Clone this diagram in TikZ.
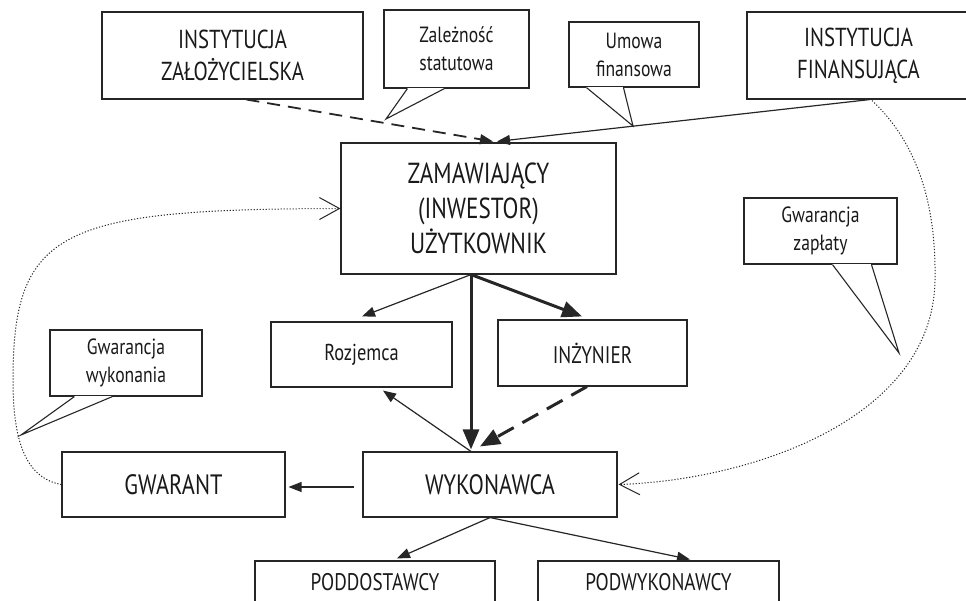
\documentclass[tikz,border=0pt]{standalone}
\usepackage{fontspec}
\setmainfont{PT Sans}[FakeStretch=0.8]
\usetikzlibrary{arrows.meta}
\usetikzlibrary{calc}
\colorlet{lncolor}{black!85}
\colorlet{txcolor}{black!90}
\tikzstyle{blk}=[draw=lncolor,line width=1.1pt,align=center,inner sep=0pt,text=txcolor]
\tikzstyle{big}=[blk,font=\fontsize{28}{34}\selectfont]
\tikzstyle{mid}=[blk,font=\fontsize{24}{30}\selectfont]
\tikzstyle{note}=[blk,font=\fontsize{22}{28}\selectfont]
\tikzstyle{ar}=[line width=1.2pt,draw=lncolor,->,>={Triangle[length=13pt,width=10pt]}]
\tikzstyle{arthick}=[line width=3pt,draw=lncolor,->,>={Triangle[length=20pt,width=16pt]}]
\tikzstyle{ardash}=[ar,line width=1.8pt,dash pattern=on 13pt off 8pt]
\tikzstyle{arthickdash}=[arthick,dash pattern=on 18pt off 10pt]
\tikzstyle{guar}=[line width=1pt,draw=lncolor,dash pattern=on 1.2pt off 1.8pt,->,>={Straight Barb[length=20pt,width=22pt]}]
% tail of a speech bubble: node, left and right offset from its south west, tip
\newcommand\calltail[4]{%
  \draw[white,line width=2pt] ($(#1.south west)+(#2,0)$) -- ($(#1.south west)+(#3,0)$);
  \draw[lncolor,line width=1.1pt] ($(#1.south west)+(#2,0)$) -- (#4) -- ($(#1.south west)+(#3,0)$);
}

\begin{document}
\begin{tikzpicture}[x=1pt,y=-1pt]
	\useasboundingbox (0,0) rectangle (966,601);
	% institutions
	\node[big,minimum width=261pt,minimum height=87pt,font=\fontsize{26}{32}\selectfont] (zal) at (232.5,55.5) {INSTYTUCJA\\ZAŁOŻYCIELSKA};
	\node[big,minimum width=223pt,minimum height=87pt,font=\fontsize{26}{32}\selectfont] (fin) at (858.5,55.5) {INSTYTUCJA\\FINANSUJĄCA};
	\node[big,minimum width=275pt,minimum height=131pt,font=\fontsize{29}{35}\selectfont] (zam) at (478.5,208.5) {ZAMAWIAJĄCY\\(INWESTOR)\\UŻYTKOWNIK};
	% contract parties
	\node[note,minimum width=181pt,minimum height=65pt,font=\fontsize{23}{28}\selectfont] (roz) at (361.5,354.5) {Rozjemca};
	\node[mid,minimum width=189pt,minimum height=66pt] (inz) at (592.5,353) {INŻYNIER};
	\node[big,minimum width=254pt,minimum height=65pt] (wyk) at (490,484.5) {WYKONAWCA};
	\node[big,minimum width=223pt,minimum height=65pt] (gwarant) at (173.5,484.5) {GWARANT};
	\node[mid,minimum width=240pt,minimum height=43pt] (podd) at (375,582.5) {PODDOSTAWCY};
	\node[mid,minimum width=241pt,minimum height=43pt] (podw) at (658.5,582.5) {PODWYKONAWCY};
	% bubbles
	\node[note,minimum width=145pt,minimum height=78pt] (statut) at (456.5,49) {Zależność\\statutowa};
	\node[note,minimum width=130pt,minimum height=65pt] (umowa) at (634,54.5) {Umowa\\finansowa};
	\node[note,minimum width=152pt,minimum height=66pt] (gwyk) at (126,363) {Gwarancja\\wykonania};
	\node[note,minimum width=153pt,minimum height=66pt] (gzap) at (820.5,231) {Gwarancja\\zapłaty};
	\coordinate (statut-tip) at (386,119);
	\coordinate (umowa-tip) at (633,126);
	\coordinate (gwyk-tip) at (21,435);
	\coordinate (gzap-tip) at (899,353);
	\calltail{statut}{24}{61}{statut-tip}
	\calltail{umowa}{18}{55}{umowa-tip}
	\calltail{gwyk}{25}{63}{gwyk-tip}
	\calltail{gzap}{89}{128}{gzap-tip}
	% connectors
	\draw[ardash] ($(zal.south)+(14,0)$) -- ($(zam.north)+(14.5,-1)$);
	\draw[ar] ($(fin.south)+(11.5,0)$) -- ($(zam.north)+(18.5,-1)$);
	\draw[ar] ($(zam.south)+(-7.5,0)$) -- ($(roz.north)+(0.5,-5)$);
	\draw[arthick] ($(zam.south)+(-7.5,0)$) -- ($(inz.north)+(-10.5,-3)$);
	\draw[arthick] ($(zam.south)+(-7.5,0)$) -- ($(wyk.north)+(-19,-2)$);
	\draw[ar] ($(wyk.north)+(-19,0)$) -- ($(roz.south)+(21.5,3)$);
	\draw[arthickdash] ($(inz.south)+(-5.5,0)$) -- ($(wyk.north)+(-10,-5)$);
	\draw[ar] ($(wyk.west)+(-8,2.5)$) -- ($(gwarant.east)+(3,2.5)$);
	\draw[ar] (wyk.south) -- ($(podd.north)+(22,-2)$);
	\draw[ar] (wyk.south) -- ($(podw.north)+(31.5,-1)$);
	% guarantees
	\coordinate (gw-bend) at (13,380);
	\coordinate (fin-bend) at (935,280);
	\draw[guar] (gwarant.west) .. controls (25,478) and (13,440) .. (gw-bend) .. controls (13,230) and (60,209) .. (zam.west);
	\draw[guar] ($(fin.south)+(13.5,1)$) .. controls (925,150) and (936,220) .. (fin-bend) .. controls (933,420) and (750,480) .. ($(wyk.east)+(1,0)$);
\end{tikzpicture}
\end{document}
